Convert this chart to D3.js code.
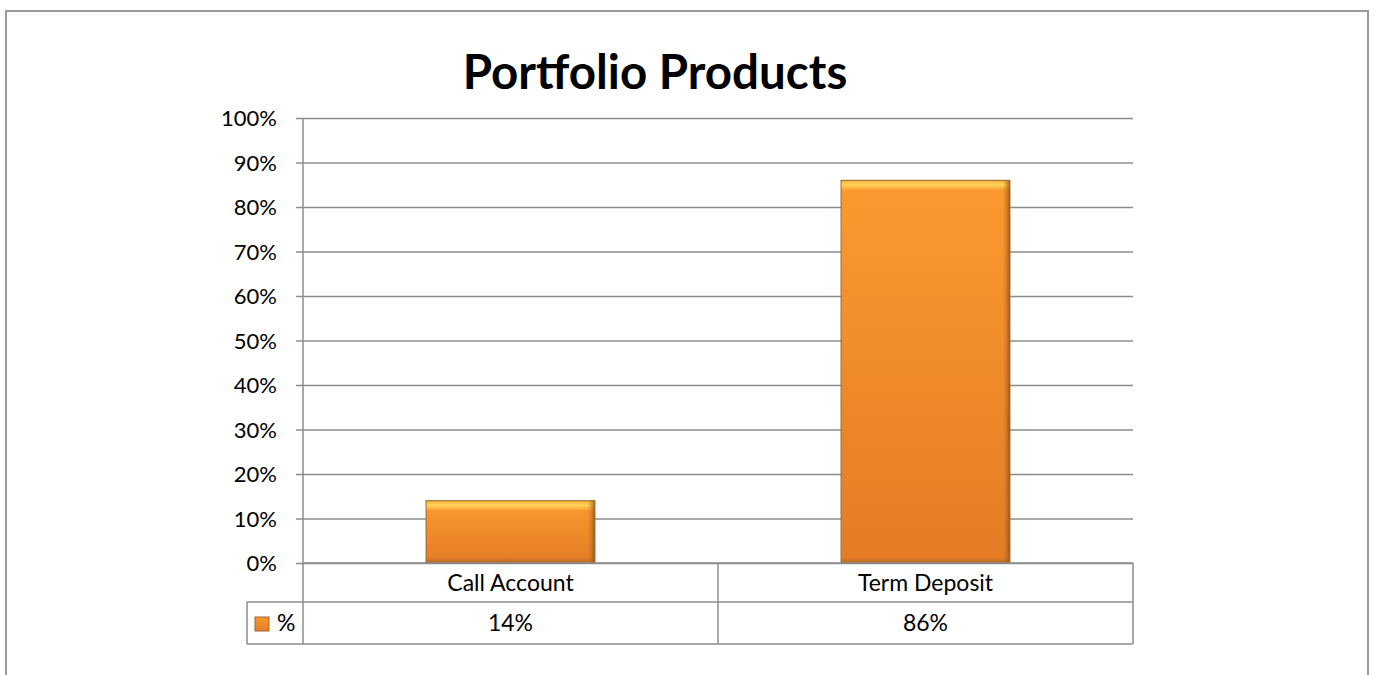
<!DOCTYPE html>
<html>
<head>
<meta charset="utf-8">
<script src="https://cdn.jsdelivr.net/npm/d3@7"></script>
<style>
  html, body { margin: 0; padding: 0; background: #fff; }
  svg { display: block; }
</style>
</head>
<body>
<svg id="chart" width="1376" height="675"></svg>
<script>
// Portfolio product split
const categories = ["Call Account", "Term Deposit"];
const seriesName = "%";
const values = [14, 86];
const yTicks = [0, 10, 20, 30, 40, 50, 60, 70, 80, 90, 100];
const title = "Portfolio Products";

const svg = d3.select("#chart");
const font = "Lato, 'Open Sans', sans-serif";

// plot area
const plot = { left: 303, right: 1133, top: 118, bottom: 563 };
const rowH = [39, 42];

// outer frame
svg.append("rect")
  .attr("x", 6).attr("y", 11).attr("width", 1362).attr("height", 700)
  .attr("fill", "none").attr("stroke", "#9a9a9a").attr("stroke-width", 2);

// bar gradients
const defs = svg.append("defs");
const g1 = defs.append("linearGradient").attr("id", "barFill")
  .attr("x1", 0).attr("y1", 0).attr("x2", 0).attr("y2", 1);
g1.append("stop").attr("offset", "0%").attr("stop-color", "#fb9a30");
g1.append("stop").attr("offset", "100%").attr("stop-color", "#e47b25");
const g2 = defs.append("linearGradient").attr("id", "barTop")
  .attr("x1", 0).attr("y1", 0).attr("x2", 0).attr("y2", 1);
g2.append("stop").attr("offset", "0%").attr("stop-color", "#f3b040");
g2.append("stop").attr("offset", "45%").attr("stop-color", "#ffd458");
g2.append("stop").attr("offset", "100%").attr("stop-color", "#fb9a30");
const g3 = defs.append("linearGradient").attr("id", "barRight")
  .attr("x1", 0).attr("y1", 0).attr("x2", 1).attr("y2", 0);
g3.append("stop").attr("offset", "0%").attr("stop-color", "#e48a2a").attr("stop-opacity", 0);
g3.append("stop").attr("offset", "100%").attr("stop-color", "#7a4a18");
const g4 = defs.append("linearGradient").attr("id", "barBottom")
  .attr("x1", 0).attr("y1", 0).attr("x2", 0).attr("y2", 1);
g4.append("stop").attr("offset", "0%").attr("stop-color", "#d9762a").attr("stop-opacity", 0);
g4.append("stop").attr("offset", "100%").attr("stop-color", "#8a5a22");

const x = d3.scaleBand().domain(categories).range([plot.left, plot.right])
  .paddingInner(0.593).paddingOuter(0.2965);
const y = d3.scaleLinear().domain([0, 100]).range([plot.bottom, plot.top]);

// gridlines + ticks
const yAxis = d3.axisLeft(y).tickValues(yTicks).tickFormat(d => d + "%")
  .tickSize(plot.right - 296).tickPadding(19);
const ga = svg.append("g").attr("transform", `translate(${plot.right},0)`).call(yAxis);
ga.select(".domain").remove();
ga.selectAll(".tick line").attr("stroke", "#8c8c8c").attr("stroke-width", 1.5);
ga.selectAll(".tick text").attr("font-family", font).attr("font-size", 22)
  .attr("fill", "#000").attr("dy", "0.36em");
// vertical axis line
svg.append("line")
  .attr("x1", plot.left).attr("x2", plot.left)
  .attr("y1", plot.top).attr("y2", plot.bottom)
  .attr("stroke", "#8c8c8c").attr("stroke-width", 1.5);

// bars
const bars = svg.append("g").selectAll("g").data(values).join("g")
  .attr("transform", (d, i) => `translate(${x(categories[i])},${y(d)})`);
bars.append("rect")
  .attr("width", x.bandwidth()).attr("height", d => y(0) - y(d))
  .attr("fill", "url(#barFill)");
bars.append("rect")
  .attr("width", x.bandwidth()).attr("height", 10)
  .attr("fill", "url(#barTop)");
bars.append("rect")
  .attr("x", x.bandwidth() - 8).attr("width", 8).attr("height", d => y(0) - y(d))
  .attr("fill", "url(#barRight)").attr("opacity", 0.8);
bars.append("rect")
  .attr("y", d => y(0) - y(d) - 7).attr("width", x.bandwidth()).attr("height", 7)
  .attr("fill", "url(#barBottom)").attr("opacity", 0.6);
bars.append("rect")
  .attr("width", x.bandwidth()).attr("height", d => y(0) - y(d))
  .attr("fill", "none").attr("stroke", "#9b6a30").attr("stroke-width", 1);

// data table
const tbl = svg.append("g").attr("fill", "none").attr("stroke", "#8c8c8c").attr("stroke-width", 1.5);
const r1 = plot.bottom, r2 = plot.bottom + rowH[0], r3 = r2 + rowH[1];
const legendLeft = 247;
tbl.append("line").attr("x1", plot.left).attr("x2", plot.right).attr("y1", r1).attr("y2", r1);
tbl.append("line").attr("x1", legendLeft).attr("x2", plot.right).attr("y1", r2).attr("y2", r2);
tbl.append("line").attr("x1", legendLeft).attr("x2", plot.right).attr("y1", r3).attr("y2", r3);
tbl.append("line").attr("x1", legendLeft).attr("x2", legendLeft).attr("y1", r2).attr("y2", r3);
const edges = [plot.left, ...categories.map(c => x(c) + x.bandwidth() / 2 + x.step() / 2)];
edges.forEach(e => tbl.append("line").attr("x1", e).attr("x2", e).attr("y1", r1).attr("y2", r3));

svg.append("g").selectAll("text").data(categories).join("text")
  .attr("x", d => x(d) + x.bandwidth() / 2).attr("y", (r1 + r2) / 2)
  .attr("dy", "0.36em").attr("text-anchor", "middle")
  .attr("font-family", font).attr("font-size", 23).text(d => d);
svg.append("g").selectAll("text").data(values).join("text")
  .attr("x", (d, i) => x(categories[i]) + x.bandwidth() / 2).attr("y", (r2 + r3) / 2)
  .attr("dy", "0.36em").attr("text-anchor", "middle")
  .attr("font-family", font).attr("font-size", 23).text(d => d + "%");

// legend key
svg.append("rect").attr("x", 255).attr("y", 617).attr("width", 14).attr("height", 14)
  .attr("fill", "url(#barFill)").attr("stroke", "#9b6a30").attr("stroke-width", 1);
svg.append("text").attr("x", 277).attr("y", (r2 + r3) / 2).attr("dy", "0.36em")
  .attr("font-family", font).attr("font-size", 23).text(seriesName);

// title
svg.append("text").attr("x", 655).attr("y", 89).attr("text-anchor", "middle")
  .attr("font-family", font).attr("font-weight", "bold").attr("font-size", 47.5)
  .text(title);
</script>
</body>
</html>
